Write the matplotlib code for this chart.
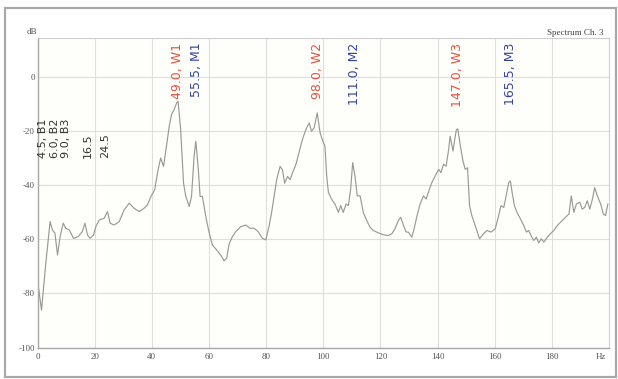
import matplotlib.pyplot as plt
from matplotlib.patches import Rectangle
from matplotlib.transforms import offset_copy

# spectrum of channel 3, frequency in Hz and level in dB
freq = [0.0, 1.4, 2.9, 4.4, 5.2, 6.1, 7.0, 7.9, 9.0, 9.9, 11.1, 12.6, 14.2, 15.7,
        16.6, 17.5, 18.4, 19.6, 20.4, 21.6, 23.3, 24.5, 25.4, 26.8, 28.6, 30.3,
        32.1, 33.8, 35.6, 37.3, 38.5, 39.7, 41.0, 42.2, 43.1, 44.1, 45.2, 46.1,
        46.9, 47.8, 48.7, 49.2, 50.1, 51.1, 51.9, 53.1, 53.9, 54.8, 55.4, 56.2,
        56.9, 57.7, 58.9, 60.1, 61.2, 62.7, 64.1, 65.3, 66.2, 67.1, 68.2, 69.4,
        71.1, 72.9, 74.4, 75.8, 77.2, 78.7, 79.9, 81.0, 81.9, 82.8, 83.7, 84.9,
        85.7, 86.5, 87.5, 88.4, 89.2, 90.4, 91.5, 92.7, 93.9, 95.1, 95.9, 96.8,
        97.9, 98.9, 99.8, 100.6, 101.2, 101.8, 102.9, 104.1, 105.3, 106.1, 107.0,
        108.0, 108.8, 109.6, 110.3, 111.1, 111.9, 112.9, 114.0, 115.2, 116.4,
        117.5, 119.3, 121.1, 122.8, 124.0, 125.1, 126.3, 127.1, 128.1, 129.0,
        129.8, 131.0, 131.8, 132.7, 133.9, 135.1, 136.0, 136.8, 138.0, 139.2,
        140.4, 141.2, 142.1, 143.0, 143.9, 144.4, 145.4, 146.0, 146.6, 147.1,
        148.0, 148.9, 149.7, 150.5, 151.2, 152.0, 153.2, 154.7, 156.1, 157.3,
        158.7, 160.2, 161.4, 162.2, 163.2, 164.0, 164.9, 165.5, 166.1, 166.9,
        167.8, 169.0, 170.2, 171.1, 171.9, 172.7, 173.7, 174.6, 175.4, 176.3,
        177.2, 178.4, 179.5, 180.7, 181.9, 183.0, 184.8, 186.0, 186.8, 187.7,
        188.6, 189.8, 190.6, 191.5, 192.4, 193.3, 194.2, 195.0, 195.9, 197.1,
        198.0, 198.8, 199.6]
level = [-75.0, -86.2, -68.9, -53.4, -56.5, -57.7, -65.8, -59.0, -54.0, -55.9,
         -56.5, -59.6, -59.0, -57.1, -54.0, -58.4, -59.6, -58.4, -55.3, -52.8,
         -52.2, -49.7, -54.0, -54.7, -53.4, -49.1, -46.6, -48.5, -49.7, -48.5,
         -47.2, -44.1, -41.7, -34.2, -29.9, -33.0, -25.0, -18.1, -13.8, -12.0,
         -9.5, -8.9, -19.4, -39.2, -44.1, -47.8, -44.1, -29.3, -23.7, -33.0,
         -44.1, -44.1, -51.6, -57.7, -62.1, -63.9, -65.8, -67.9, -67.0, -61.5,
         -59.0, -57.1, -55.3, -54.7, -55.9, -55.9, -57.1, -59.6, -60.2, -55.3,
         -50.3, -44.1, -37.9, -33.0, -34.2, -39.2, -36.7, -37.9, -35.5, -32.4,
         -28.0, -23.1, -19.4, -16.9, -20.0, -18.8, -13.2, -20.6, -23.5, -25.5,
         -36.5, -42.6, -45.1, -46.9, -50.0, -47.5, -50.0, -46.9, -47.5, -41.4,
         -31.6, -36.5, -43.9, -43.9, -50.0, -53.0, -55.5, -56.7, -57.6, -58.3,
         -58.6, -57.9, -56.1, -53.0, -51.8, -54.9, -57.3, -57.3, -59.2, -56.1,
         -51.8, -46.9, -43.9, -45.1, -42.6, -39.0, -36.5, -34.1, -35.3, -32.2,
         -32.9, -26.7, -21.8, -27.3, -23.1, -19.4, -19.1, -25.5, -31.0, -34.1,
         -33.5, -47.5, -51.2, -54.9, -59.8, -57.9, -56.7, -57.3, -56.1, -51.2,
         -47.5, -48.2, -43.9, -39.0, -38.4, -42.6, -47.5, -50.0, -52.4, -54.9,
         -57.3, -56.7, -58.6, -60.4, -59.2, -61.3, -59.8, -61.0, -59.2, -57.9,
         -56.7, -54.9, -53.7, -51.8, -50.6, -43.9, -50.0, -46.9, -46.3, -48.8,
         -48.2, -45.7, -48.8, -45.1, -40.8, -43.9, -46.9, -50.6, -51.2, -46.9]

# marked frequencies
w_freq = [49.0, 98.0, 147.0]
w_names = ['W1', 'W2', 'W3']
m_freq = [55.5, 111.0, 165.5]
m_names = ['M1', 'M2', 'M3']
b_labels = ['4.5, B1', '6.0, B2', '9.0, B3', '16.5', '24.5']
b_freq = [4.5, 6.0, 9.0, 16.5, 24.5]

x_ticks = [0, 20, 40, 60, 80, 100, 120, 140, 160, 180]
y_ticks = [0, -20, -40, -60, -80, -100]

serif = 'Liberation Serif'
sans = 'DejaVu Sans'

fig = plt.figure(figsize=(6.18, 3.79), dpi=100)
ax = fig.add_axes([0.0607, 0.0831, 0.9247, 0.8166])
ax.set_facecolor('#fefefa')

ax.plot(freq, level, color='#999999', lw=0.85)

ax.set_xlim(0, 200)
ax.set_ylim(-100, 14.5)

ax.set_xticks(x_ticks + [197])
ax.set_xticklabels([str(t) for t in x_ticks] + ['Hz'], fontfamily=serif,
                   fontsize=6.5, color='#555555')
ax.set_yticks(y_ticks)
ax.set_yticklabels([str(t) for t in y_ticks], fontfamily=serif,
                   fontsize=6.5, color='#555555')
ax.tick_params(axis='x', length=0, pad=4)
ax.tick_params(axis='y', length=0, pad=2)
ax.grid(True, color='#dedede', lw=0.8)
ax.get_xgridlines()[-1].set_visible(False)
ax.set_axisbelow(True)

for side in ['top', 'right']:
    ax.spines[side].set_color('#cfcfcf')
    ax.spines[side].set_linewidth(0.8)
for side in ['left', 'bottom']:
    ax.spines[side].set_color('#a8a8a8')
    ax.spines[side].set_linewidth(1.0)

# peak labels along the top
for f, n in zip(w_freq, w_names):
    ax.text(f, 12.8, '{:.1f}, {}'.format(f, n), rotation=90, ha='center',
            va='top', fontsize=9, family=sans, color='#e8503e')
for f, n in zip(m_freq, m_names):
    ax.text(f, 12.8, '{:.1f}, {}'.format(f, n), rotation=90, ha='center',
            va='top', fontsize=9, family=sans, color='#34449a')

# low frequency labels, spread apart in pixels so they stay readable
nudge = [-7.5, 0, 3, 3.5, -2.5]
for f, t, dx in zip(b_freq, b_labels, nudge):
    tr = offset_copy(ax.transData, fig=fig, x=dx, y=0, units='dots')
    ax.text(f, -30, t, rotation=90, ha='center', va='bottom', fontsize=8,
            family=sans, color='#333333', transform=tr)

fig.text(0.06, 1 - 32 / 379, 'dB', ha='right', va='center', fontsize=6.5,
         family=serif, color='#555555')
fig.text(0.976, 1 - 33 / 379, 'Spectrum Ch. 3', ha='right', va='center',
         fontsize=6.5, family=serif, color='#444444')

# outer frame
fig.patches.append(Rectangle((5 / 618, 2 / 379), 611 / 618, 369 / 379,
                             transform=fig.transFigure, fill=False,
                             edgecolor='#a9a9a9', lw=1.6))

fig.savefig('out.png', dpi=100)
